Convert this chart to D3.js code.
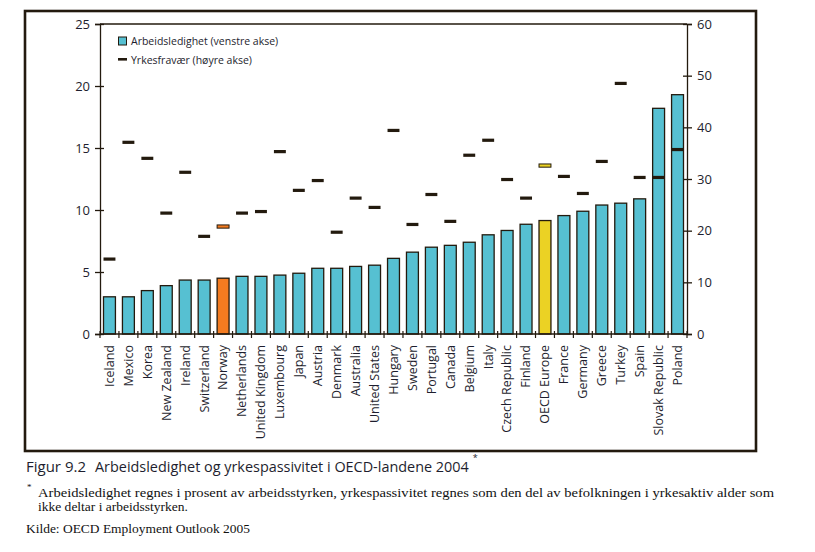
<!DOCTYPE html>
<html><head><meta charset="utf-8">
<script src="https://cdn.jsdelivr.net/npm/d3@7"></script>
<style>
html,body{margin:0;padding:0;background:#fff;}
svg{display:block;}
</style></head>
<body>
<svg id="chart" width="815" height="552"></svg>
<script>
const countries = ["Iceland","Mexico","Korea","New Zealand","Ireland","Switzerland","Norway","Netherlands","United Kingdom","Luxembourg","Japan","Austria","Denmark","Australia","United States","Hungary","Sweden","Portugal","Canada","Belgium","Italy","Czech Republic","Finland","OECD Europe","France","Germany","Greece","Turkey","Spain","Slovak Republic","Poland"];
const unemployment = [3.0,3.0,3.5,3.9,4.35,4.35,4.5,4.65,4.65,4.75,4.9,5.3,5.3,5.45,5.55,6.1,6.6,7.0,7.15,7.4,8.0,8.35,8.85,9.15,9.55,9.9,10.4,10.55,10.9,18.2,19.3];
const inactivity = [14.5,37.1,34.0,23.4,31.3,18.9,20.8,23.4,23.7,35.3,27.8,29.7,19.7,26.3,24.5,39.4,21.2,27.0,21.8,34.6,37.5,29.9,26.3,32.6,30.5,27.2,33.4,48.5,30.3,30.3,35.7];
const highlightNames = ["Norway","OECD Europe"];
const highlightColors = ["#f47b20","#ebd224"];
const leftTicks = [0,5,10,15,20,25];
const rightTicks = [0,10,20,30,40,50,60];
const legendLabels = ["Arbeidsledighet (venstre akse)","Yrkesfravær (høyre akse)"];

const ink = "#231a0e";
const barColor = "#56c0d2";
const textColor = "#1e1e2e";

const svg = d3.select("#chart");
const L = 100, R = 687, T = 24, B = 334;

const x = d3.scaleBand().domain(countries).range([L, R]).paddingInner(0.37).paddingOuter(0.185);
const yL = d3.scaleLinear().domain([0, 25]).range([B, T]);
const yR = d3.scaleLinear().domain([0, 60]).range([B, T]);
const fillFor = name => { const i = highlightNames.indexOf(name); return i >= 0 ? highlightColors[i] : null; };

// outer frame
svg.append("rect").attr("x", 25).attr("y", 11).attr("width", 731).attr("height", 440)
  .attr("fill", "none").attr("stroke", ink).attr("stroke-width", 2.6);

// bars
svg.append("g").selectAll("rect").data(countries).join("rect")
  .attr("x", d => x(d)).attr("width", x.bandwidth())
  .attr("y", (d, i) => yL(unemployment[i])).attr("height", (d, i) => B - yL(unemployment[i]))
  .attr("fill", d => fillFor(d) || barColor).attr("stroke", ink).attr("stroke-width", 1.3);

// markers
const mh = 3.2;
svg.append("g").selectAll("rect").data(countries).join("rect")
  .attr("x", d => x(d)).attr("width", x.bandwidth())
  .attr("y", (d, i) => yR(inactivity[i]) - mh / 2).attr("height", mh)
  .attr("fill", d => fillFor(d) || ink)
  .attr("stroke", d => fillFor(d) ? ink : "none").attr("stroke-width", 1);

// plot box top line
svg.append("line").attr("x1", L).attr("x2", R).attr("y1", T).attr("y2", T).attr("stroke", ink).attr("stroke-width", 1.3);

// left axis
const gl = svg.append("g").attr("transform", `translate(${L},0)`)
  .call(d3.axisLeft(yL).tickValues(leftTicks).tickSize(5).tickPadding(5).tickFormat(d3.format("d")));
gl.select(".domain").attr("stroke", ink).attr("stroke-width", 1.3);
gl.selectAll(".tick line").attr("x1", -5).attr("x2", 4).attr("stroke", ink).attr("stroke-width", 1.3);
gl.selectAll(".tick text").attr("font-family", "Open Sans, sans-serif").attr("font-size", 13).attr("fill", textColor);

// right axis
const gr = svg.append("g").attr("transform", `translate(${R},0)`)
  .call(d3.axisRight(yR).tickValues(rightTicks).tickSize(5).tickPadding(5).tickFormat(d3.format("d")));
gr.select(".domain").attr("stroke", ink).attr("stroke-width", 1.3);
gr.selectAll(".tick line").attr("x1", -4).attr("x2", 5).attr("stroke", ink).attr("stroke-width", 1.3);
gr.selectAll(".tick text").attr("font-family", "Open Sans, sans-serif").attr("font-size", 13).attr("fill", textColor);

// bottom axis
svg.append("line").attr("x1", L).attr("x2", R).attr("y1", B).attr("y2", B).attr("stroke", ink).attr("stroke-width", 1.3);
const gap = (x.step() - x.bandwidth()) / 2;
const bounds = countries.map(d => x(d) - gap).concat([R]);
svg.append("g").selectAll("line").data(bounds).join("line")
  .attr("x1", d => d).attr("x2", d => d).attr("y1", B - 3).attr("y2", B + 4)
  .attr("stroke", ink).attr("stroke-width", 1.2);
const gb = svg.append("g").attr("transform", `translate(0,${B})`)
  .call(d3.axisBottom(x).tickSize(0).tickPadding(0));
gb.select(".domain").remove();
gb.selectAll(".tick text")
  .attr("transform", "rotate(-90)")
  .attr("x", -11).attr("y", 0).attr("dy", "0.35em")
  .attr("text-anchor", "end")
  .attr("font-family", "Open Sans, sans-serif").attr("font-size", 12.5).attr("fill", textColor);

// legend
const lg = svg.append("g");
lg.append("rect").attr("x", 118.5).attr("y", 37).attr("width", 8).attr("height", 8)
  .attr("fill", barColor).attr("stroke", ink).attr("stroke-width", 1);
lg.append("rect").attr("x", 118).attr("y", 58).attr("width", 9).attr("height", 2.6).attr("fill", ink);
lg.selectAll("text").data(legendLabels).join("text")
  .attr("x", 131).attr("y", (d, i) => 45 + i * 18.5)
  .attr("font-family", "Open Sans, sans-serif").attr("font-size", 10.5).attr("fill", textColor)
  .text(d => d);

// caption (font size fitted so natural width matches)
svg.append("text").attr("x", 26).attr("y", 472).attr("font-family", "Open Sans, sans-serif")
  .attr("font-size", 15).attr("fill", textColor).text("Figur 9.2");
const cap = svg.append("text").attr("x", 95).attr("y", 472).attr("font-family", "Open Sans, sans-serif")
  .attr("font-size", 15).attr("fill", textColor)
  .text("Arbeidsledighet og yrkespassivitet i OECD-landene 2004");
const natural = cap.node().getComputedTextLength();
const fitted = Math.min(15, 15 * 374 / natural);
cap.attr("font-size", fitted);
const capEnd = 95 + cap.node().getComputedTextLength();
svg.append("text").attr("x", capEnd + 4).attr("y", 461).attr("font-family", "Open Sans, sans-serif")
  .attr("font-size", 9).attr("fill", textColor).text("*");

// footnotes
const serif = "Liberation Serif, Times New Roman, serif";
svg.append("text").attr("x", 27).attr("y", 490).attr("font-family", serif).attr("font-size", 9).attr("fill", "#111").text("*");
svg.append("text").attr("x", 38).attr("y", 497).attr("font-family", serif).attr("font-size", 12).attr("fill", "#111")
  .attr("textLength", 736).attr("lengthAdjust", "spacingAndGlyphs")
  .text("Arbeidsledighet regnes i prosent av arbeidsstyrken, yrkespassivitet regnes som den del av befolkningen i yrkesaktiv alder som");
svg.append("text").attr("x", 38).attr("y", 511).attr("font-family", serif).attr("font-size", 12).attr("fill", "#111")
  .attr("textLength", 150).attr("lengthAdjust", "spacingAndGlyphs")
  .text("ikke deltar i arbeidsstyrken.");
svg.append("text").attr("x", 26).attr("y", 533).attr("font-family", serif).attr("font-size", 13).attr("fill", "#111")
  .attr("textLength", 224).attr("lengthAdjust", "spacingAndGlyphs")
  .text("Kilde: OECD Employment Outlook 2005");
</script>
</body></html>
